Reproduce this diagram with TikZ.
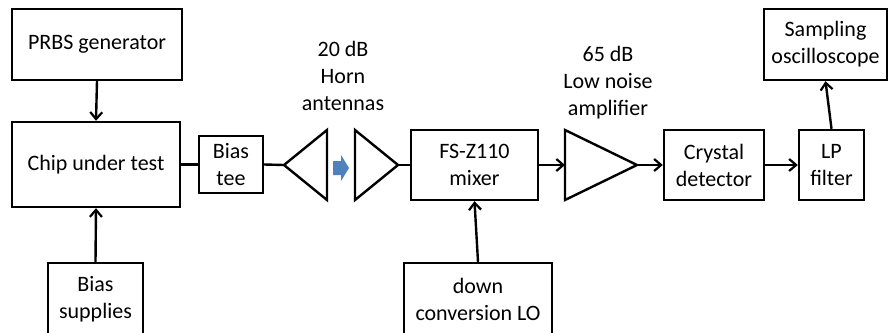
\documentclass[tikz,border=0pt]{standalone}
\usepackage{fontspec}
\setmainfont{Carlito}
\usetikzlibrary{arrows.meta}
\begin{document}
\begin{tikzpicture}[x=1pt,y=-1pt,
  box/.style={draw,line width=2.4pt,rectangle,align=center,inner sep=0pt,font=\fontsize{22}{27}\selectfont},
  lbl/.style={align=center,inner sep=0pt,font=\fontsize{22}{27}\selectfont},
  link/.style={line width=2.4pt},
  arr/.style={line width=2.4pt,-{Straight Barb[length=7pt,width=12pt,line width=2.2pt]}},
  tri/.style={draw,line width=2.4pt,line join=miter}]
\clip (0,0) rectangle (890,332);
\fill[white] (0,0) rectangle (890,332);
\node[box,minimum width=170pt,minimum height=71pt] (prbs) at (97,44.5) {PRBS generator};
\node[box,minimum width=168pt,minimum height=85pt] (chip) at (96,164.5) {Chip under test};
\node[box,minimum width=64pt,minimum height=57pt] (tee) at (231,164.5) {Bias\\tee};
\node[box,minimum width=95pt,minimum height=73pt] (sup) at (95.5,299.5) {Bias\\supplies};
\node[box,minimum width=127pt,minimum height=70pt] (mix) at (474.5,165) {FS-Z110\\mixer};
\node[box,minimum width=148pt,minimum height=73pt] (lo) at (478,299.5) {down\\conversion LO};
\node[box,minimum width=100pt,minimum height=70pt] (det) at (714,165) {Crystal\\detector};
\node[box,minimum width=65pt,minimum height=70pt] (lp) at (831.5,165) {LP\\filter};
\node[box,minimum width=123pt,minimum height=71pt] (osc) at (825.5,44.5) {Sampling\\oscilloscope};
\node[lbl] (hornlbl) at (343,76) {20 dB\\Horn\\antennas};
\node[lbl] (amplbl) at (608,83) {65 dB\\Low noise\\amplifier};
% horns
\coordinate (h1) at (284,165);
\draw[tri] (h1) -- (327,130) -- (327,200) -- cycle;
\coordinate (h2) at (398,165);
\draw[tri] (h2) -- (355,130) -- (355,200) -- cycle;
% amplifier
\coordinate (ain) at (565,165);
\coordinate (aout) at (637,165);
\draw[tri] (565,130) -- (aout) -- (565,200) -- cycle;
% blue arrow
\fill[fill={rgb,255:red,79;green,129;blue,189}] (333,161) -- (341,161) -- (341,155) -- (349,168) -- (341,181) -- (341,175) -- (333,175) -- cycle;
% connectors
\draw[arr] (prbs.south) -- (chip.north);
\draw[arr] (sup.north) -- (chip.south);
\draw[link] (chip.east) -- (tee.west);
\draw[link] (tee.east) -- (h1);
\draw[link] (h2) -- (mix.west);
\draw[arr] (mix.east) -- (ain);
\draw[arr] (aout) -- (det.west);
\draw[arr] (det.east) -- (lp.west);
\draw[arr] (lp.north) -- (osc.south);
\draw[arr] (lo.north) -- (mix.south);
\end{tikzpicture}
\end{document}
